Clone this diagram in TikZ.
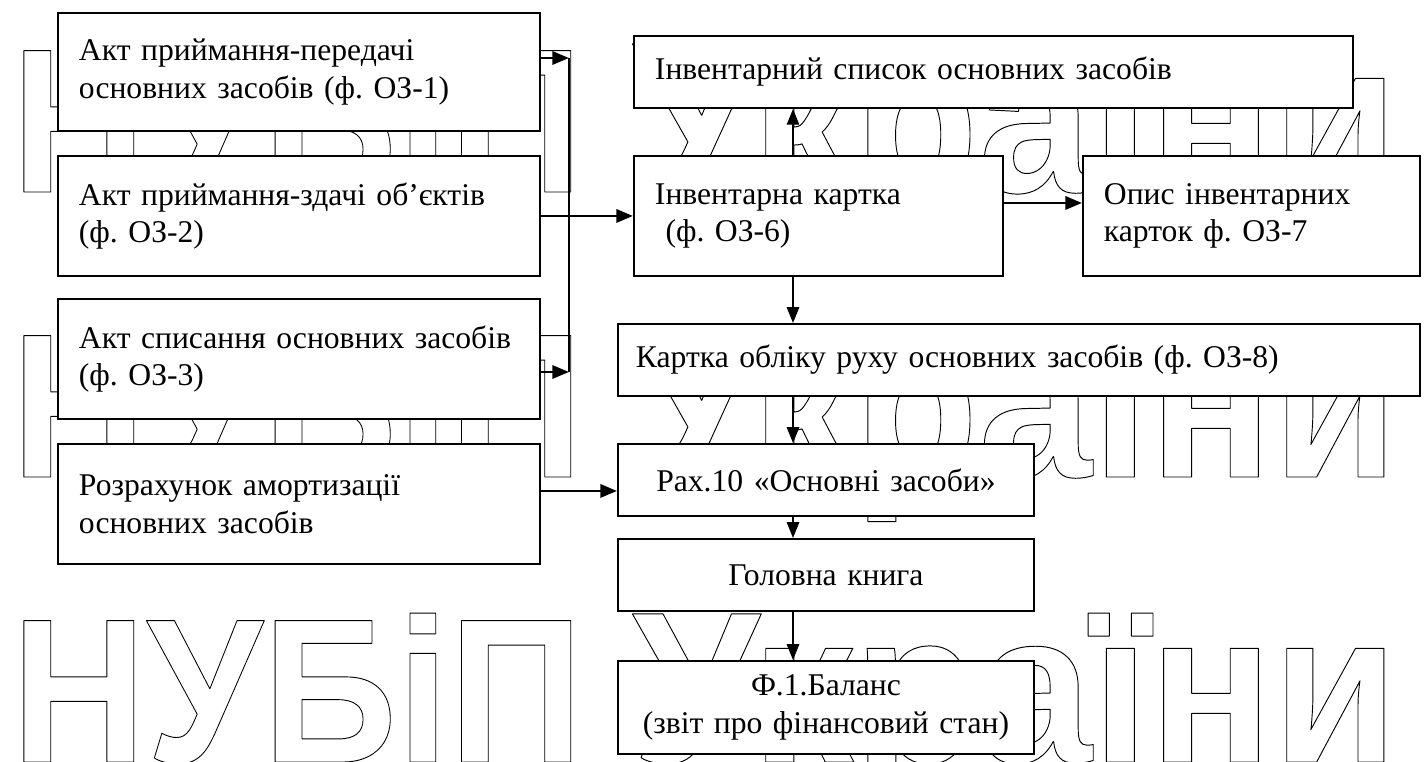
\documentclass[tikz,border=0pt]{standalone}
\usepackage{fontspec}
\setmainfont{Liberation Serif}
\newfontfamily\stampfont{Liberation Sans}
\frenchspacing
\usepackage{tikz}
\usetikzlibrary{arrows.meta, positioning}
\tikzstyle{doc} = [rectangle, draw, fill=white, line width=1.1pt, anchor=north west, inner xsep=0.42cm, inner ysep=0pt, align=left, font=\fontsize{18}{21.5}\selectfont]
\tikzstyle{docc} = [doc, align=center]
\tikzstyle{arrow} = [-{Triangle[length=9.5pt, width=7.5pt]}, line width=1.6pt]
\tikzstyle{varrow} = [-{Triangle[length=9pt, width=7pt]}, line width=1.1pt]
\tikzstyle{stamp} = [inner sep=0pt, anchor=base west, font=\stampfont\bfseries\fontsize{100}{100}\selectfont]
% outlined letters of the background stamp
\newcommand{\wm}[3]{\resizebox{#1}{#2}{\special{pdf:literal direct 1 Tr 0.45 w 1 J 1 j}#3\special{pdf:literal direct 0 Tr}}}

\begin{document}
\begin{tikzpicture}[x=0.02cm, y=-0.02cm]
  \fill[white] (0,0) rectangle (1426,761);
  \useasboundingbox (0,0) rectangle (1426,761);

  % watermark
  \foreach \yy in {192,477,762} {
    \node[stamp] at (11,\yy) {\wm{11.44cm}{2.98cm}{НУБіП}};
    \node[stamp] at (632,\yy) {\wm{15.32cm}{2.98cm}{України}};
  }

  % source documents
  \node[doc, text width=8.8cm, minimum height=2.36cm] (akt1) at (57,12) {Акт приймання-передачі\\основних засобів (ф. ОЗ-1)};
  \node[doc, text width=8.8cm, minimum height=2.4cm] (akt2) at (57,155) {Акт приймання-здачі об’єктів\\(ф. ОЗ-2)};
  \node[doc, text width=8.8cm, minimum height=2.4cm] (akt3) at (57,298) {Акт списання основних засобів\\(ф. ОЗ-3)};
  \node[doc, text width=8.8cm, minimum height=2.4cm] (rozr) at (57,443) {Розрахунок амортизації\\основних засобів};

  % registers
  \node[doc, text width=13.54cm, minimum height=1.44cm] (spysok) at (633,35) {Інвентарний список основних засобів};
  \node[doc, text width=6.54cm, minimum height=2.4cm] (kartka) at (633,155) {Інвентарна картка\\\ (ф. ОЗ-6)};
  \node[doc, text width=5.9cm, minimum height=2.4cm] (opys) at (1082,155) {Опис інвентарних\\карток ф. ОЗ-7};
  \node[doc, inner xsep=0.36cm, text width=15.32cm, minimum height=1.44cm] (rukh) at (617,323) {Картка обліку руху основних засобів (ф. ОЗ-8)};
  \node[docc, text width=7.48cm, minimum height=1.44cm] (rakh) at (617,443) {Рах.10 «Основні засоби»};
  \node[docc, text width=7.48cm, minimum height=1.44cm] (knyha) at (617,538) {Головна книга};
  \node[docc, text width=7.48cm, minimum height=1.86cm] (balans) at (617,660) {Ф.1.Баланс\\(звіт про фінансовий стан)};

  \coordinate (j1) at (569,58);
  \coordinate (j3) at (569,372);
  \coordinate (v) at (793,0);
  \coordinate (r4) at ([yshift=0.26cm]rozr.east);
  \coordinate (k6) at ([yshift=0.26cm]kartka.east);

  \draw[arrow] (akt1.east |- j1) -- (j1);
  \draw[arrow] (akt3.east |- j3) -- (j3);
  \draw[line width=0.6pt] (j1) -- (j3);
  \draw[arrow] (akt2.east) -- (akt2.east -| kartka.west);
  \draw[arrow] (r4) -- (r4 -| rakh.west);
  \draw[arrow] (k6) -- (k6 -| opys.west);

  \draw[varrow] (kartka.north -| v) -- (spysok.south -| v);
  \draw[varrow] (kartka.south -| v) -- (rukh.north -| v);
  \draw[varrow] (rukh.south -| v) -- (rakh.north -| v);
  \draw[varrow] (rakh.south -| v) -- (knyha.north -| v);
  \draw[varrow] (knyha.south -| v) -- (balans.north -| v);
\end{tikzpicture}
\end{document}
